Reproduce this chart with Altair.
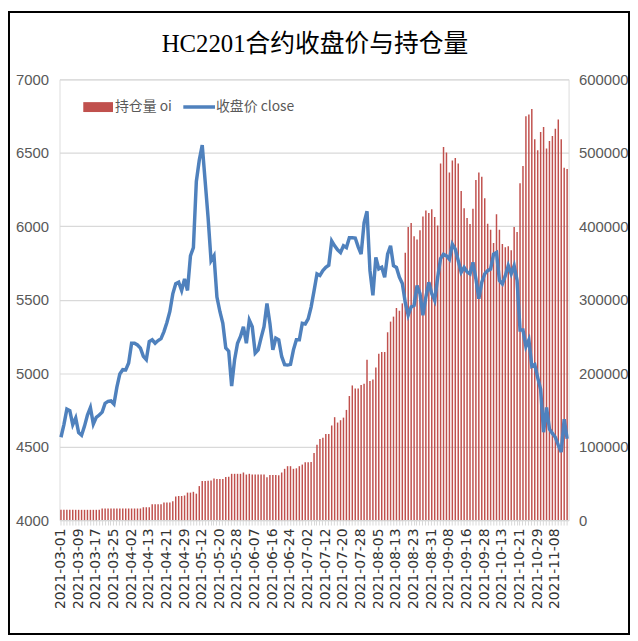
import altair as alt
import pandas as pd

# trading calendar (SHFE) for 2021-03-01 .. 2021-11-12
holidays = ['2021-04-05', '2021-05-03', '2021-05-04', '2021-05-05', '2021-06-14',
            '2021-09-20', '2021-09-21', '2021-10-01', '2021-10-04', '2021-10-05',
            '2021-10-06', '2021-10-07']
dates = [d.strftime('%Y-%m-%d') for d in pd.bdate_range('2021-03-01', '2021-11-12')
         if d.strftime('%Y-%m-%d') not in holidays]

close = [4564, 4650, 4755, 4745, 4650, 4695, 4595, 4578, 4640, 4715,
         4766, 4654, 4699, 4715, 4735, 4795, 4808, 4811, 4790, 4905,
         4995, 5024, 5022, 5069, 5204, 5204, 5192, 5171, 5115, 5092,
         5215, 5227, 5204, 5222, 5235, 5283, 5345, 5420, 5540, 5609,
         5619, 5563, 5642, 5563, 5799, 5855, 6305, 6450, 6552, 6305,
         6057, 5766, 5799, 5518, 5420, 5339, 5171, 5150, 4912, 5092,
         5204, 5250, 5316, 5204, 5361, 5316, 5137, 5159, 5240, 5316,
         5474, 5339, 5159, 5238, 5227, 5114, 5058, 5055, 5060, 5159,
         5227, 5227, 5339, 5335, 5370, 5450, 5560, 5676, 5665, 5698,
         5720, 5735, 5900, 5867, 5840, 5821, 5867, 5855, 5922, 5922,
         5920, 5860, 5810, 6024, 6102, 5698, 5530, 5788, 5710, 5721,
         5653, 5810, 5867, 5732, 5720, 5653, 5610, 5480, 5395, 5451,
         5462, 5597, 5541, 5395, 5518, 5619, 5541, 5496, 5650, 5780,
         5810, 5799, 5776, 5878, 5844, 5765, 5687, 5720, 5690, 5676,
         5754, 5642, 5507, 5620, 5676, 5698, 5709, 5810, 5821, 5631,
         5608, 5664, 5732, 5676, 5732, 5631, 5294, 5294, 5181, 5227,
         5047, 5058, 4970, 4890, 4598, 4766, 4620, 4590, 4564, 4510,
         4463, 4687, 4553]

oi = [14000, 14000, 14000, 14000, 14000, 14000, 14000, 14000, 14000, 14000,
      14000, 14000, 14000, 14000, 15800, 15800, 15800, 15800, 15800, 15800,
      15800, 15800, 15800, 15800, 15800, 15800, 15800, 15800, 17500, 17500,
      17500, 21600, 21600, 21600, 21600, 24000, 24000, 24000, 25500, 32000,
      32800, 32800, 33500, 37400, 37400, 38500, 36000, 46300, 53100, 53100,
      53500, 54000, 56700, 56000, 56000, 56000, 58800, 59000, 63000, 63000,
      63000, 63000, 64800, 62000, 63000, 62000, 62000, 62000, 62000, 62000,
      58500, 61500, 61500, 61500, 61000, 64800, 69800, 73400, 73400, 69800,
      70500, 73400, 75600, 78800, 78800, 79000, 91400, 102700, 110400, 112000,
      117100, 117100, 128800, 140100, 132800, 136000, 139500, 150000, 168900, 183300,
      179300, 179300, 183800, 185500, 218400, 189500, 191300, 207600, 226500, 228800,
      228800, 255700, 270200, 277000, 288700, 285000, 295000, 363800, 399000, 404400,
      386400, 381900, 394500, 413400, 421500, 417900, 423300, 412500, 401200, 485400,
      508000, 500300, 473300, 489500, 493100, 485400, 448100, 424600, 411100, 403000,
      423800, 463000, 473300, 467500, 438100, 403500, 395400, 377300, 416500, 395400,
      376000, 371500, 372800, 367500, 399000, 392200, 458400, 481900, 549900, 552100,
      559700, 518400, 503500, 528200, 535000, 505700, 516100, 522800, 532700, 545400,
      518400, 479600, 477800]

tick_labels = ['2021-03-01', '2021-03-09', '2021-03-17', '2021-03-25', '2021-04-02',
               '2021-04-13', '2021-04-21', '2021-04-29', '2021-05-12', '2021-05-20',
               '2021-05-28', '2021-06-07', '2021-06-16', '2021-06-24', '2021-07-02',
               '2021-07-12', '2021-07-20', '2021-07-28', '2021-08-05', '2021-08-13',
               '2021-08-23', '2021-08-31', '2021-09-08', '2021-09-16', '2021-09-28',
               '2021-10-13', '2021-10-21', '2021-10-29', '2021-11-08']

left_ticks = [4000, 4500, 5000, 5500, 6000, 6500, 7000]
right_ticks = [0, 100000, 200000, 300000, 400000, 500000, 600000]

title_text = 'HC2201合约收盘价与持仓量'
legend_oi = '持仓量 oi'
legend_close = '收盘价 close'

assert len(dates) == len(close) == len(oi)

df = pd.DataFrame({'date': dates, 'close': close, 'oi': oi})
one = pd.DataFrame({'k': [0]})

W, H = 514, 445
PAD = {'left': 52, 'top': 69, 'right': 62, 'bottom': 116}

label_list = "[" + ",".join("'%s'" % t for t in tick_labels) + "]"
x_enc = alt.X('date:N', sort=None,
              scale=alt.Scale(paddingInner=0.5, paddingOuter=0.25),
              axis=alt.Axis(title=None, labelAngle=-90, labelOverlap=False,
                            labelExpr="indexof(%s, datum.value) >= 0 ? datum.value : ''" % label_list,
                            ticks=True, tickSize=5, tickColor='#D9D9D9',
                            domainColor='#D9D9D9', labelFont='DejaVu Sans',
                            labelFontSize=14, labelColor='#333333', labelPadding=3,
                            grid=False, labelBound=False))

bars = alt.Chart(df).mark_bar(color='#C0504D').encode(
    x=x_enc,
    y=alt.Y('oi:Q', scale=alt.Scale(domain=[0, 600000], nice=False),
            axis=alt.Axis(orient='right', title=None, values=right_ticks, format='d',
                          grid=False, domain=False, ticks=False, labelPadding=10,
                          labelFont='Liberation Sans', labelFontSize=15,
                          labelColor='#595959'))
)

line = alt.Chart(df).mark_line(color='#4F81BD', strokeWidth=3.5).encode(
    x=x_enc,
    y=alt.Y('close:Q', scale=alt.Scale(domain=[4000, 7000], nice=False),
            axis=alt.Axis(orient='left', title=None, values=left_ticks, format='d',
                          grid=True, gridColor='#D9D9D9', gridWidth=1.2,
                          domain=False, ticks=False, labelPadding=11,
                          labelFont='Liberation Sans', labelFontSize=15,
                          labelColor='#595959'))
)

title = alt.Chart(one).mark_text(align='center', baseline='middle',
                                 font='Liberation Serif, Noto Sans CJK SC', fontSize=25,
                                 color='black', text=title_text).encode(
    x=alt.value(W / 2 + 1), y=alt.value(-36))

leg_rect = alt.Chart(one).mark_rect(color='#C0504D').encode(
    x=alt.value(24), x2=alt.value(54), y=alt.value(23), y2=alt.value(33))
leg_text1 = alt.Chart(one).mark_text(align='left', baseline='middle', font='Noto Sans CJK SC',
                                     fontSize=14, color='#595959', text=legend_oi).encode(
    x=alt.value(56), y=alt.value(28))
leg_rule = alt.Chart(one).mark_rule(color='#4F81BD', strokeWidth=3.5).encode(
    x=alt.value(125), x2=alt.value(157), y=alt.value(28))
leg_text2 = alt.Chart(one).mark_text(align='left', baseline='middle', font='Noto Sans CJK SC',
                                     fontSize=14, color='#595959', text=legend_close).encode(
    x=alt.value(158), y=alt.value(28))

border = alt.Chart(one).mark_rect(fill='transparent', stroke='black', strokeWidth=2).encode(
    x=alt.value(-PAD['left'] + 1), x2=alt.value(W + PAD['right'] - 1),
    y=alt.value(-PAD['top'] + 1), y2=alt.value(H + PAD['bottom'] - 1))

chart = alt.layer(bars, line, title, leg_rect, leg_text1, leg_rule, leg_text2, border).resolve_scale(
    y='independent'
).properties(
    width=W, height=H,
    autosize=alt.AutoSizeParams(type='none'),
    padding=PAD,
).configure_view(stroke=None).configure(background='white')

chart.save('out.html', embed_options={'renderer': 'svg', 'actions': False})
